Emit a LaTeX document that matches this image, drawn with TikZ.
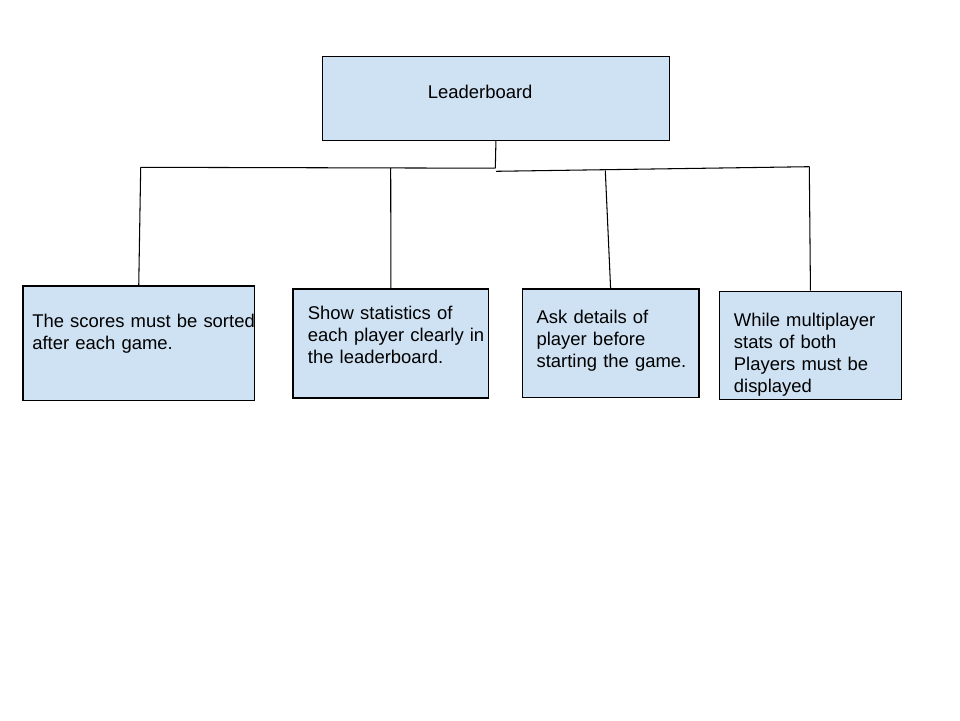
\documentclass[tikz,border=0pt]{standalone}
\usepackage{fontspec}
\setmainfont{Liberation Sans}
\usepackage{tikz}
\usetikzlibrary{positioning}
\definecolor{boxblue}{HTML}{CFE2F3}
\tikzset{
	x=0.02cm, y=-0.02cm, % one unit is one pixel of the sketch
	every box/.style={draw, line width=0.7pt, fill=boxblue, anchor=north west, inner sep=0pt, align=left, font=\fontsize{10.5}{12.5}\selectfont}, % sets the properties of each box
	pad/.style={execute at begin node={\leftskip=#1\rightskip=-0.5cm plus 1fil}}, % space left of the text
	link/.style={line width=0.6pt}, % the lines between the boxes
}
\begin{document}
\begin{tikzpicture}
	\useasboundingbox (0,0) rectangle (960,720);
			\node[every box, pad=2.112cm, text width=6.946cm, text height=0.852cm, text depth=0.834cm] (ldr) at (321.7,55.7) {Leaderboard};
			\node[every box, pad=0.188cm, text width=4.634cm, text height=0.828cm, text depth=1.466cm] (s1) at (22.3,285.3) {The scores must be sorted\\after each game.};
			\node[every box, pad=0.300cm, text width=3.920cm, text height=0.614cm, text depth=1.566cm] (s2) at (292.3,288.3) {Show statistics of\\each player clearly in\\the leaderboard.};
			\node[every box, pad=0.286cm, text width=3.532cm, text height=0.700cm, text depth=1.468cm] (s3) at (521.7,288.3) {Ask details of\\player before\\starting the game.};
			\node[every box, pad=0.286cm, text width=3.634cm, text height=0.700cm, text depth=1.466cm] (s4) at (719,290.7) {While multiplayer\\stats of both\\Players must be\\displayed};
			\coordinate (j1) at (140.7,167.3);
			\coordinate (j2) at (390.7,168);
			\coordinate (jm) at (495.3,168.2);
			\coordinate (jr) at (496,171.3);
			\coordinate (j3) at (605.3,170.7);
			\coordinate (j4) at (809.3,166.7);
	\draw[link]	(ldr.south) -- (jm)
			(j1) -- (jm)
			(jr) -- (j4)
			(j1) -- (s1.north)
			(j2) -- (s2.north)
			(j3) -- (s3.north)
			(j4) -- (s4.north);
	\end{tikzpicture}
\end{document}
